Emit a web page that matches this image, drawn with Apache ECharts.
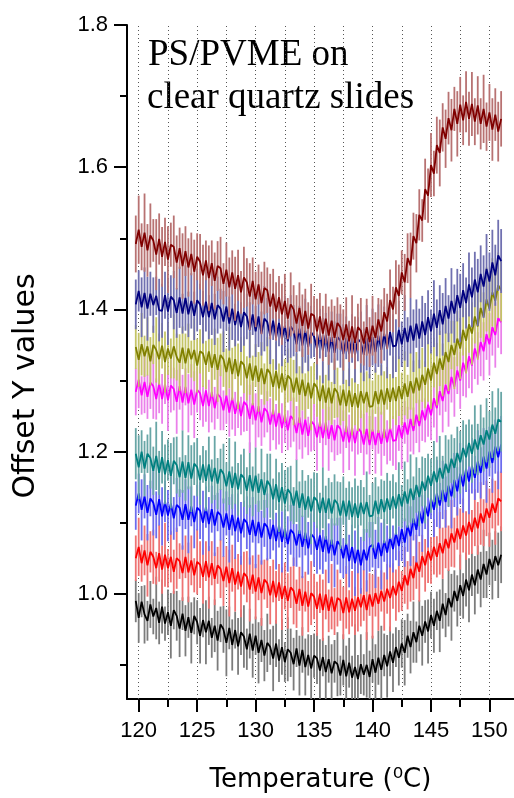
<!DOCTYPE html>
<html>
<head>
<meta charset="utf-8">
<script src="https://cdn.jsdelivr.net/npm/echarts/dist/echarts.min.js"></script>
<style>
  html, body { margin: 0; padding: 0; background: #fff; }
  #chart { width: 514px; height: 798px; }
</style>
</head>
<body>
<div id="chart"></div>
<script>
// Temperature sampling (°C)
const temps = [119.75,
  120, 120.25, 120.5, 120.75, 121, 121.25, 121.5, 121.75,
  122, 122.25, 122.5, 122.75, 123, 123.25, 123.5, 123.75,
  124, 124.25, 124.5, 124.75, 125, 125.25, 125.5, 125.75,
  126, 126.25, 126.5, 126.75, 127, 127.25, 127.5, 127.75,
  128, 128.25, 128.5, 128.75, 129, 129.25, 129.5, 129.75,
  130, 130.25, 130.5, 130.75, 131, 131.25, 131.5, 131.75,
  132, 132.25, 132.5, 132.75, 133, 133.25, 133.5, 133.75,
  134, 134.25, 134.5, 134.75, 135, 135.25, 135.5, 135.75,
  136, 136.25, 136.5, 136.75, 137, 137.25, 137.5, 137.75,
  138, 138.25, 138.5, 138.75, 139, 139.25, 139.5, 139.75,
  140, 140.25, 140.5, 140.75, 141, 141.25, 141.5, 141.75,
  142, 142.25, 142.5, 142.75, 143, 143.25, 143.5, 143.75,
  144, 144.25, 144.5, 144.75, 145, 145.25, 145.5, 145.75,
  146, 146.25, 146.5, 146.75, 147, 147.25, 147.5, 147.75,
  148, 148.25, 148.5, 148.75, 149, 149.25, 149.5, 149.75,
  150, 150.25, 150.5, 150.75,
  151];

// Offset curves (mean values), bottom to top
const meanBlack = [0.990,
  0.966,0.989,0.971,0.962, 0.985,0.968,0.980,0.959,
  0.982,0.958,0.974,0.955, 0.977,0.969,0.951,0.972,
  0.948,0.967,0.945,0.969, 0.960,0.941,0.963,0.946,
  0.962,0.938,0.955,0.934, 0.957,0.950,0.931,0.952,
  0.928,0.949,0.926,0.946, 0.940,0.922,0.944,0.920,
  0.941,0.917,0.935,0.913, 0.931,0.925,0.909,0.930,
  0.906,0.925,0.904,0.922, 0.917,0.901,0.923,0.899,
  0.921,0.897,0.914,0.895, 0.913,0.909,0.892,0.911,
  0.890,0.908,0.888,0.905, 0.901,0.885,0.907,0.884,
  0.903,0.882,0.897,0.880, 0.901,0.886,0.900,0.883,
  0.908,0.889,0.910,0.893, 0.914,0.898,0.919,0.903,
  0.925,0.910,0.930,0.917, 0.941,0.925,0.946,0.932,
  0.955,0.941,0.961,0.947, 0.970,0.955,0.976,0.962,
  0.986,0.970,0.994,0.981, 1.004,0.990,1.012,0.997,
  1.020,1.005,1.027,1.012, 1.034,1.020,1.042,1.027,
  1.049,1.034,1.053,1.040,
  1.055];

const meanRed = [1.050,
  1.066,1.043,1.061,1.040, 1.059,1.052,1.036,1.057,
  1.034,1.055,1.036,1.052, 1.031,1.050,1.046,1.029,
  1.052,1.030,1.047,1.026, 1.045,1.041,1.024,1.046,
  1.023,1.043,1.021,1.040, 1.035,1.018,1.038,1.015,
  1.036,1.013,1.031,1.010, 1.029,1.024,1.006,1.027,
  1.003,1.023,1.001,1.020, 1.015,0.998,1.018,0.995,
  1.016,0.993,1.011,0.990, 1.009,1.004,0.986,1.007,
  0.983,1.003,0.982,1.001, 0.996,0.979,1.000,0.977,
  0.999,0.976,0.996,0.975, 0.994,0.991,0.973,0.995,
  0.974,0.993,0.976,0.995, 0.981,0.998,0.977,0.999,
  0.982,1.001,0.986,1.004, 0.989,1.007,0.994,1.011,
  0.998,1.017,1.004,1.026, 1.012,1.035,1.022,1.045,
  1.031,1.053,1.040,1.060, 1.047,1.066,1.052,1.071,
  1.057,1.077,1.064,1.085, 1.072,1.092,1.077,1.096,
  1.082,1.101,1.087,1.107, 1.092,1.113,1.100,1.120,
  1.107,1.127,1.114,1.134,
  1.130];

const meanBlue = [1.124,
  1.141,1.118,1.137,1.114, 1.134,1.128,1.111,1.133,
  1.109,1.130,1.110,1.127, 1.106,1.125,1.121,1.104,
  1.126,1.104,1.123,1.101, 1.121,1.117,1.100,1.122,
  1.098,1.119,1.096,1.115, 1.111,1.093,1.113,1.090,
  1.111,1.088,1.107,1.085, 1.105,1.100,1.083,1.104,
  1.081,1.101,1.079,1.099, 1.094,1.077,1.097,1.074,
  1.096,1.073,1.092,1.070, 1.090,1.085,1.068,1.089,
  1.066,1.086,1.064,1.084, 1.079,1.062,1.082,1.059,
  1.081,1.057,1.076,1.054, 1.074,1.068,1.050,1.071,
  1.046,1.066,1.043,1.063, 1.040,1.062,1.047,1.066,
  1.069,1.049,1.072,1.053, 1.075,1.058,1.080,1.063,
  1.086,1.067,1.091,1.072, 1.096,1.081,1.106,1.090,
  1.116,1.099,1.124,1.109, 1.134,1.118,1.141,1.124,
  1.146,1.129,1.152,1.137, 1.160,1.144,1.169,1.151,
  1.176,1.158,1.180,1.163, 1.186,1.170,1.193,1.176,
  1.200,1.184,1.207,1.192,
  1.210];

const meanTeal = [1.197,
  1.178,1.200,1.176,1.197, 1.191,1.173,1.194,1.170,
  1.192,1.168,1.188,1.166, 1.187,1.181,1.164,1.186,
  1.163,1.185,1.162,1.183, 1.178,1.160,1.182,1.159,
  1.182,1.158,1.177,1.155, 1.175,1.169,1.151,1.172,
  1.149,1.170,1.147,1.168, 1.163,1.145,1.167,1.144,
  1.166,1.142,1.161,1.139, 1.159,1.152,1.133,1.154,
  1.129,1.150,1.127,1.147, 1.141,1.124,1.145,1.121,
  1.141,1.118,1.137,1.116, 1.136,1.131,1.114,1.135,
  1.114,1.134,1.113,1.132, 1.127,1.110,1.131,1.109,
  1.131,1.108,1.127,1.107, 1.128,1.112,1.129,1.109,
  1.110,1.131,1.112,1.133, 1.115,1.134,1.118,1.137,
  1.120,1.140,1.123,1.144, 1.127,1.148,1.132,1.153,
  1.136,1.158,1.145,1.166, 1.152,1.172,1.157,1.177,
  1.162,1.183,1.170,1.190, 1.177,1.198,1.185,1.205,
  1.192,1.212,1.197,1.217, 1.203,1.223,1.210,1.230,
  1.217,1.238,1.225,1.245,
  1.242];

const meanMagenta = [1.284,
  1.301,1.279,1.298,1.277, 1.297,1.292,1.274,1.296,
  1.274,1.295,1.272,1.293, 1.288,1.270,1.292,1.269,
  1.291,1.268,1.287,1.266, 1.287,1.282,1.264,1.286,
  1.264,1.284,1.261,1.281, 1.276,1.258,1.279,1.255,
  1.276,1.253,1.272,1.250, 1.270,1.265,1.246,1.268,
  1.244,1.264,1.241,1.261, 1.256,1.238,1.259,1.235,
  1.256,1.233,1.252,1.230, 1.250,1.245,1.226,1.248,
  1.224,1.245,1.222,1.243, 1.238,1.220,1.242,1.219,
  1.241,1.218,1.237,1.216, 1.237,1.232,1.214,1.236,
  1.213,1.234,1.212,1.233, 1.228,1.210,1.232,1.209,
  1.231,1.209,1.230,1.211, 1.232,1.213,1.234,1.215,
  1.216,1.237,1.219,1.241, 1.224,1.246,1.229,1.252,
  1.236,1.258,1.244,1.266, 1.251,1.275,1.261,1.285,
  1.271,1.294,1.281,1.305, 1.291,1.314,1.300,1.325,
  1.311,1.334,1.321,1.345, 1.331,1.354,1.341,1.365,
  1.351,1.375,1.364,1.388,
  1.382];

const meanOlive = [1.347,
  1.329,1.351,1.334,1.348, 1.327,1.350,1.343,1.330,
  1.349,1.326,1.345,1.331, 1.348,1.333,1.325,1.346,
  1.324,1.345,1.330,1.343, 1.321,1.341,1.338,1.322,
  1.341,1.318,1.337,1.315, 1.336,1.330,1.312,1.332,
  1.309,1.330,1.306,1.327, 1.322,1.303,1.324,1.300,
  1.321,1.298,1.317,1.295, 1.316,1.310,1.291,1.313,
  1.289,1.310,1.286,1.307, 1.302,1.283,1.304,1.280,
  1.301,1.278,1.297,1.275, 1.296,1.290,1.271,1.293,
  1.269,1.290,1.268,1.289, 1.283,1.265,1.287,1.264,
  1.286,1.263,1.282,1.262, 1.285,1.268,1.284,1.263,
  1.264,1.285,1.267,1.287, 1.266,1.289,1.270,1.290,
  1.271,1.292,1.274,1.296, 1.277,1.299,1.282,1.304,
  1.286,1.308,1.294,1.317, 1.300,1.325,1.309,1.331,
  1.315,1.340,1.326,1.350, 1.336,1.359,1.345,1.371,
  1.356,1.379,1.366,1.390, 1.376,1.402,1.389,1.414,
  1.401,1.424,1.412,1.434,
  1.427];

const meanNavy = [1.407,
  1.426,1.403,1.423,1.401, 1.422,1.406,1.419,1.399,
  1.398,1.420,1.397,1.418, 1.413,1.395,1.417,1.394,
  1.416,1.393,1.412,1.391, 1.413,1.407,1.389,1.411,
  1.389,1.409,1.386,1.406, 1.401,1.383,1.404,1.380,
  1.401,1.378,1.397,1.375, 1.396,1.390,1.371,1.393,
  1.369,1.390,1.366,1.387, 1.382,1.363,1.384,1.360,
  1.381,1.358,1.377,1.355, 1.376,1.370,1.351,1.373,
  1.349,1.370,1.347,1.368, 1.362,1.344,1.366,1.342,
  1.364,1.340,1.361,1.339, 1.361,1.356,1.337,1.360,
  1.337,1.359,1.336,1.358, 1.354,1.336,1.360,1.338,
  1.361,1.340,1.363,1.343, 1.366,1.345,1.368,1.348,
  1.349,1.371,1.351,1.374, 1.354,1.377,1.356,1.380,
  1.359,1.383,1.364,1.389, 1.369,1.394,1.374,1.399,
  1.379,1.405,1.387,1.412, 1.394,1.420,1.402,1.427,
  1.409,1.435,1.417,1.442, 1.424,1.450,1.432,1.457,
  1.439,1.466,1.448,1.476,
  1.468];

const meanMaroon = [1.492,
  1.512,1.488,1.508,1.483, 1.504,1.497,1.477,1.499,
  1.474,1.495,1.470,1.491, 1.488,1.466,1.486,1.461,
  1.482,1.459,1.478,1.453, 1.474,1.467,1.448,1.469,
  1.444,1.465,1.440,1.461, 1.458,1.436,1.456,1.431,
  1.452,1.429,1.448,1.424, 1.445,1.438,1.418,1.440,
  1.414,1.435,1.409,1.430, 1.427,1.404,1.422,1.397,
  1.417,1.393,1.412,1.387, 1.407,1.400,1.380,1.402,
  1.377,1.398,1.373,1.394, 1.391,1.369,1.390,1.366,
  1.387,1.363,1.384,1.360, 1.381,1.375,1.357,1.379,
  1.355,1.376,1.353,1.375, 1.370,1.352,1.375,1.354,
  1.377,1.360,1.386,1.369, 1.396,1.383,1.413,1.400,
  1.431,1.419,1.452,1.438, 1.472,1.462,1.503,1.493,
  1.533,1.525,1.569,1.560, 1.603,1.591,1.631,1.620,
  1.656,1.640,1.669,1.652, 1.682,1.661,1.688,1.666,
  1.692,1.668,1.689,1.664, 1.687,1.661,1.682,1.657,
  1.677,1.653,1.674,1.650,
  1.668];

// Error-bar half heights for each curve
const errBlack = [0.030,
  0.035,0.022,0.041,0.028, 0.033,0.025,0.044,0.030,
  0.038,0.024,0.032,0.046, 0.027,0.035,0.040,0.023,
  0.036,0.029,0.043,0.026, 0.031,0.039,0.024,0.045,
  0.034,0.028,0.037,0.042, 0.025,0.033,0.047,0.030,
  0.036,0.026,0.040,0.032, 0.044,0.029,0.035,0.038,
  0.027,0.043,0.031,0.036, 0.041,0.025,0.046,0.033,
  0.030,0.039,0.028,0.045, 0.034,0.037,0.026,0.042,
  0.032,0.040,0.029,0.047, 0.031,0.036,0.044,0.027,
  0.038,0.033,0.041,0.030, 0.045,0.028,0.036,0.043,
  0.035,0.031,0.060,0.034, 0.042,0.029,0.046,0.037,
  0.033,0.040,0.038,0.062, 0.030,0.044,0.035,0.041,
  0.028,0.039,0.034,0.046, 0.031,0.037,0.043,0.029,
  0.036,0.042,0.030,0.045, 0.033,0.038,0.027,0.044,
  0.035,0.031,0.040,0.047, 0.029,0.036,0.043,0.032,
  0.038,0.045,0.030,0.041, 0.034,0.039,0.048,0.033,
  0.037,0.042,0.035,0.046,
  0.040];

const errRed = [0.032,
  0.041,0.026,0.035,0.044, 0.029,0.038,0.023,0.040,
  0.034,0.045,0.027,0.036, 0.031,0.043,0.025,0.039,
  0.030,0.042,0.035,0.024, 0.046,0.033,0.038,0.028,
  0.044,0.031,0.037,0.026, 0.041,0.035,0.029,0.047,
  0.033,0.038,0.025,0.043, 0.030,0.036,0.045,0.027,
  0.039,0.032,0.046,0.028, 0.035,0.041,0.030,0.037,
  0.026,0.044,0.033,0.039, 0.029,0.047,0.034,0.031,
  0.042,0.028,0.036,0.045, 0.032,0.038,0.027,0.043,
  0.035,0.030,0.046,0.033, 0.040,0.029,0.037,0.044,
  0.031,0.039,0.034,0.048, 0.027,0.036,0.042,0.030,
  0.045,0.033,0.038,0.029, 0.041,0.035,0.047,0.032,
  0.036,0.043,0.028,0.040, 0.034,0.046,0.031,0.038,
  0.042,0.030,0.037,0.045, 0.033,0.039,0.029,0.044,
  0.036,0.041,0.032,0.047, 0.035,0.030,0.043,0.038,
  0.034,0.046,0.031,0.040, 0.037,0.044,0.033,0.039,
  0.041,0.035,0.045,0.038,
  0.042];

const errBlue = [0.034,
  0.028,0.043,0.031,0.039, 0.025,0.046,0.033,0.037,
  0.041,0.029,0.036,0.044, 0.030,0.038,0.026,0.042,
  0.035,0.047,0.028,0.037, 0.032,0.040,0.045,0.029,
  0.038,0.033,0.043,0.027, 0.036,0.041,0.031,0.046,
  0.029,0.039,0.034,0.044, 0.026,0.037,0.042,0.032,
  0.045,0.030,0.038,0.033, 0.047,0.028,0.036,0.040,
  0.031,0.043,0.027,0.039, 0.035,0.046,0.030,0.038,
  0.044,0.032,0.037,0.029, 0.041,0.034,0.048,0.031,
  0.036,0.042,0.030,0.045, 0.033,0.039,0.028,0.043,
  0.037,0.031,0.046,0.034, 0.040,0.029,0.044,0.035,
  0.032,0.041,0.036,0.047, 0.030,0.038,0.043,0.033,
  0.039,0.028,0.045,0.034, 0.037,0.042,0.031,0.046,
  0.035,0.040,0.033,0.044, 0.029,0.038,0.047,0.032,
  0.041,0.036,0.030,0.045, 0.038,0.034,0.043,0.037,
  0.033,0.046,0.039,0.031, 0.044,0.036,0.040,0.048,
  0.035,0.042,0.038,0.045,
  0.040];

const errTeal = [0.036,
  0.045,0.030,0.039,0.027, 0.043,0.034,0.048,0.031,
  0.037,0.042,0.029,0.046, 0.033,0.040,0.028,0.044,
  0.032,0.038,0.047,0.030, 0.041,0.035,0.026,0.043,
  0.039,0.031,0.045,0.036, 0.029,0.042,0.034,0.047,
  0.030,0.044,0.037,0.028, 0.041,0.033,0.046,0.035,
  0.040,0.027,0.043,0.032, 0.038,0.045,0.029,0.036,
  0.042,0.034,0.047,0.031, 0.039,0.026,0.044,0.037,
  0.033,0.041,0.030,0.046, 0.035,0.039,0.028,0.043,
  0.038,0.029,0.044,0.036, 0.031,0.047,0.034,0.040,
  0.027,0.042,0.035,0.045, 0.032,0.038,0.043,0.030,
  0.046,0.033,0.039,0.028, 0.044,0.036,0.041,0.031,
  0.037,0.045,0.030,0.042, 0.034,0.048,0.033,0.039,
  0.041,0.035,0.046,0.031, 0.038,0.043,0.036,0.045,
  0.032,0.040,0.047,0.034, 0.042,0.037,0.044,0.039,
  0.046,0.033,0.041,0.048, 0.036,0.043,0.038,0.045,
  0.040,0.047,0.037,0.044,
  0.042];

const errMagenta = [0.033,
  0.040,0.027,0.044,0.031, 0.037,0.046,0.029,0.042,
  0.035,0.028,0.043,0.038, 0.030,0.045,0.033,0.039,
  0.026,0.041,0.036,0.047, 0.032,0.038,0.029,0.044,
  0.037,0.043,0.030,0.035, 0.046,0.028,0.040,0.034,
  0.045,0.031,0.039,0.027, 0.042,0.036,0.048,0.030,
  0.038,0.044,0.033,0.041, 0.029,0.037,0.043,0.032,
  0.046,0.035,0.040,0.028, 0.044,0.031,0.038,0.045,
  0.034,0.039,0.027,0.043, 0.036,0.047,0.030,0.041,
  0.032,0.045,0.038,0.029, 0.042,0.035,0.044,0.031,
  0.039,0.034,0.046,0.037, 0.030,0.043,0.036,0.041,
  0.028,0.040,0.033,0.045, 0.038,0.031,0.047,0.035,
  0.042,0.036,0.044,0.030, 0.039,0.046,0.033,0.040,
  0.037,0.043,0.031,0.045, 0.035,0.041,0.048,0.034,
  0.044,0.038,0.046,0.036, 0.042,0.033,0.040,0.047,
  0.035,0.045,0.039,0.043, 0.037,0.048,0.041,0.036,
  0.044,0.040,0.046,0.042,
  0.045];

const errOlive = [0.031,
  0.038,0.044,0.029,0.041, 0.034,0.027,0.046,0.036,
  0.032,0.043,0.037,0.028, 0.045,0.033,0.040,0.030,
  0.042,0.035,0.026,0.044, 0.038,0.031,0.047,0.034,
  0.029,0.041,0.036,0.045, 0.030,0.039,0.033,0.043,
  0.037,0.028,0.046,0.034, 0.040,0.031,0.044,0.035,
  0.030,0.042,0.037,0.029, 0.045,0.033,0.039,0.041,
  0.035,0.027,0.044,0.038, 0.031,0.046,0.034,0.040,
  0.043,0.032,0.037,0.045, 0.029,0.041,0.036,0.033,
  0.039,0.046,0.030,0.042, 0.035,0.028,0.044,0.037,
  0.031,0.040,0.045,0.033, 0.038,0.043,0.029,0.046,
  0.036,0.032,0.041,0.035, 0.047,0.030,0.039,0.044,
  0.034,0.042,0.037,0.045, 0.031,0.040,0.046,0.036,
  0.043,0.038,0.033,0.047, 0.040,0.035,0.044,0.039,
  0.037,0.045,0.041,0.034, 0.048,0.039,0.043,0.036,
  0.046,0.040,0.044,0.038, 0.047,0.042,0.035,0.045,
  0.041,0.048,0.043,0.046,
  0.044];

const errNavy = [0.035,
  0.029,0.042,0.036,0.045, 0.031,0.039,0.027,0.044,
  0.038,0.033,0.047,0.030, 0.041,0.035,0.043,0.028,
  0.046,0.032,0.039,0.034, 0.044,0.029,0.037,0.042,
  0.031,0.045,0.036,0.040, 0.028,0.043,0.034,0.038,
  0.044,0.030,0.041,0.035, 0.047,0.032,0.039,0.029,
  0.036,0.043,0.031,0.046, 0.034,0.040,0.027,0.045,
  0.033,0.038,0.042,0.030, 0.044,0.036,0.041,0.032,
  0.039,0.045,0.034,0.037, 0.029,0.043,0.035,0.046,
  0.031,0.040,0.036,0.044, 0.033,0.038,0.042,0.030,
  0.045,0.034,0.039,0.031, 0.043,0.037,0.046,0.035,
  0.040,0.029,0.044,0.036, 0.038,0.042,0.033,0.045,
  0.037,0.041,0.032,0.046, 0.035,0.039,0.044,0.034,
  0.042,0.036,0.045,0.038, 0.031,0.047,0.040,0.035,
  0.044,0.039,0.033,0.046, 0.041,0.037,0.048,0.038,
  0.036,0.045,0.042,0.039, 0.047,0.040,0.044,0.049,
  0.041,0.046,0.043,0.050,
  0.045];

const errMaroon = [0.040,
  0.048,0.033,0.055,0.037, 0.045,0.030,0.050,0.036,
  0.042,0.034,0.047,0.031, 0.044,0.038,0.029,0.046,
  0.035,0.041,0.030,0.045, 0.033,0.039,0.043,0.028,
  0.046,0.032,0.040,0.035, 0.044,0.029,0.038,0.042,
  0.031,0.045,0.036,0.030, 0.043,0.034,0.047,0.033,
  0.039,0.028,0.044,0.037, 0.032,0.046,0.035,0.041,
  0.030,0.043,0.038,0.029, 0.045,0.034,0.040,0.036,
  0.044,0.031,0.037,0.042, 0.028,0.046,0.033,0.039,
  0.035,0.041,0.030,0.045, 0.036,0.032,0.043,0.038,
  0.029,0.044,0.037,0.033, 0.046,0.031,0.040,0.035,
  0.042,0.036,0.030,0.045, 0.034,0.039,0.043,0.032,
  0.038,0.044,0.031,0.040, 0.035,0.046,0.033,0.041,
  0.036,0.030,0.043,0.038, 0.045,0.032,0.040,0.047,
  0.034,0.041,0.037,0.044, 0.031,0.046,0.039,0.035,
  0.043,0.038,0.045,0.033, 0.041,0.036,0.048,0.034,
  0.040,0.044,0.037,0.042,
  0.039];

const means = [meanBlack, meanRed, meanBlue, meanTeal, meanMagenta, meanOlive, meanNavy, meanMaroon];
const errs = [errBlack, errRed, errBlue, errTeal, errMagenta, errOlive, errNavy, errMaroon];
const lineColors = ['#000000', '#ff0000', '#0000ff', '#008080', '#ff00ff', '#808000', '#000080', '#800000'];
const barColors = ['#7c7c7c', '#ee7272', '#6c6cee', '#68a6a6', '#ea80ea', '#c4c466', '#7070b0', '#b87272'];

// Axis ticks and guide lines
const tempTicks = [120, 125, 130, 135, 140, 145, 150];
const tempMinorTicks = [122.5, 127.5, 132.5, 137.5, 142.5, 147.5];
const tempGuides = [120, 122.5, 125, 127.5, 130, 132.5, 135, 137.5, 140, 142.5, 145, 147.5, 150];
const offsetTicks = [1.0, 1.2, 1.4, 1.6, 1.8];
const offsetMinorTicks = [0.9, 1.1, 1.3, 1.5, 1.7];

const X_MIN = 119, X_MAX = 152.1;
const Y_MIN = 0.852, Y_MAX = 1.8;

const chart = echarts.init(document.getElementById('chart'), null, { renderer: 'canvas' });

const tickRich = { t: { fontFamily: 'Liberation Sans', fontSize: 22, color: '#000' } };

function errorBarRenderer(color) {
  return function (params, api) {
    const x = api.value(0);
    const lo = api.coord([x, api.value(1)]);
    const hi = api.coord([x, api.value(2)]);
    return {
      type: 'line',
      shape: { x1: lo[0], y1: lo[1], x2: hi[0], y2: hi[1] },
      style: { stroke: color, lineWidth: 1.8 }
    };
  };
}

const series = [];
means.forEach((vals, i) => {
  const err = errs[i];
  series.push({
    type: 'custom',
    xAxisIndex: 0,
    yAxisIndex: 0,
    clip: true,
    silent: true,
    animation: false,
    z: 2 + 2 * i,
    encode: { x: 0, y: [1, 2] },
    data: temps.map((t, j) => [t, +(vals[j] - err[j]).toFixed(3), +(vals[j] + err[j]).toFixed(3)]),
    renderItem: errorBarRenderer(barColors[i])
  });
  series.push({
    type: 'line',
    xAxisIndex: 0,
    yAxisIndex: 0,
    data: temps.map((t, j) => [t, vals[j]]),
    symbol: 'none',
    showSymbol: false,
    lineStyle: { color: lineColors[i], width: 1.8 },
    itemStyle: { color: lineColors[i] },
    z: 3 + 2 * i,
    animation: false,
    silent: true
  });
});

series[0].markLine = {
  silent: true,
  symbol: ['none', 'none'],
  label: { show: false },
  z: 1,
  animation: false,
  lineStyle: { color: '#555', width: 1, type: [1, 3] },
  data: tempGuides.map(t => ({ xAxis: t }))
};

chart.setOption({
  animation: false,
  backgroundColor: '#fff',
  grid: { left: 127, right: 0, top: 25, bottom: 99, containLabel: false, outerBoundsMode: 'none' },
  xAxis: [
    {
      type: 'value', min: X_MIN, max: X_MAX, position: 'bottom',
      axisLine: { onZero: false, lineStyle: { color: '#000', width: 2 } },
      axisTick: { customValues: tempTicks, length: 13, lineStyle: { color: '#000', width: 2 } },
      axisLabel: {
        customValues: tempTicks, margin: 21,
        formatter: v => '{t|' + v + '}',
        rich: tickRich
      },
      splitLine: { show: false },
      name: 'Temperature (\u2070C)',
      nameLocation: 'middle',
      nameGap: 68,
      nameTextStyle: { fontFamily: 'DejaVu Sans', fontSize: 26, color: '#000' }
    },
    {
      type: 'value', min: X_MIN, max: X_MAX, position: 'bottom',
      axisLine: { show: false, onZero: false },
      axisTick: { customValues: tempMinorTicks, length: 8, lineStyle: { color: '#000', width: 2 } },
      axisLabel: { show: false },
      splitLine: { show: false }
    }
  ],
  yAxis: [
    {
      type: 'value', min: Y_MIN, max: Y_MAX, position: 'left',
      axisLine: { show: true, onZero: false, lineStyle: { color: '#000', width: 2 } },
      axisTick: { show: true, customValues: offsetTicks, length: 13, lineStyle: { color: '#000', width: 2 } },
      axisLabel: {
        customValues: offsetTicks, margin: 19,
        formatter: v => '{t|' + v.toFixed(1) + '}',
        rich: tickRich
      },
      splitLine: { show: false }
    },
    {
      type: 'value', min: Y_MIN, max: Y_MAX, position: 'left',
      axisLine: { show: false, onZero: false },
      axisTick: { show: true, customValues: offsetMinorTicks, length: 7, lineStyle: { color: '#000', width: 2 } },
      axisLabel: { show: false },
      splitLine: { show: false }
    }
  ],
  graphic: [
    { type: 'text', left: 148, top: 37, silent: true,
      style: { text: 'PS/PVME on', font: '37px "Liberation Serif"', fill: '#000' } },
    { type: 'text', left: 147, top: 80, silent: true,
      style: { text: 'clear quartz slides', font: '37px "Liberation Serif"', fill: '#000' } },
    { type: 'text', x: 26, y: 386, rotation: Math.PI / 2, silent: true,
      style: { text: 'Offset Y values', font: '30px "DejaVu Sans"', fill: '#000',
               align: 'center', verticalAlign: 'middle' } }
  ],
  series: series
});
</script>
</body>
</html>
